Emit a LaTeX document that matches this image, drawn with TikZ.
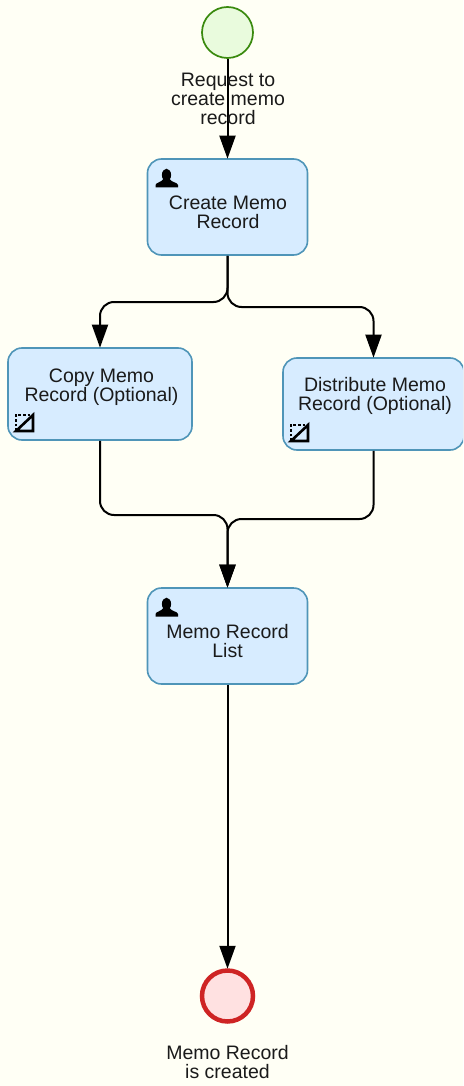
\documentclass[tikz,border=0pt]{standalone}
\usepackage{fontspec}
\setmainfont{Liberation Sans}
\usetikzlibrary{arrows.meta}
\definecolor{bgc}{HTML}{FFFFF5}
\definecolor{taskfill}{HTML}{D7ECFF}
\definecolor{taskline}{HTML}{4F95B8}
\definecolor{startfill}{HTML}{E9FBDD}
\definecolor{startline}{HTML}{3A8A0E}
\definecolor{endfill}{HTML}{FFE1E1}
\definecolor{endline}{HTML}{CE2424}
\definecolor{txt}{HTML}{1A1A1A}
\tikzset{
  taskbox/.style={draw=taskline,fill=taskfill,line width=1.6pt,rounded corners=14pt,inner sep=0pt,minimum width=#1},
  txtlabel/.style={text=txt,font=\fontsize{19.5}{19}\selectfont,align=center,inner sep=0pt},
  conn/.style={draw=black,line width=2pt,rounded corners=14pt,-{Triangle[width=16pt,length=23pt]},shorten >=-0.5pt},
  iconline/.style={draw=black,line width=2.6pt},
}
\begin{document}
\begin{tikzpicture}[x=1pt,y=-1pt]
\useasboundingbox (0,0) rectangle (463,1086);
\fill[bgc] (0,0) rectangle (463,1086);
% events and tasks
\node[circle,draw=startline,fill=startfill,line width=1.7pt,minimum size=51pt,inner sep=0pt] (start) at (227.5,32.5) {};
\node[taskbox=160pt,minimum height=96pt] (create) at (227.5,207) {};
\node[taskbox=184pt,minimum height=92pt] (copy) at (100,394) {};
\begin{scope}
\clip (0,0) rectangle (463,1086);
\node[taskbox=181pt,minimum height=92pt] (dist) at (373.5,404) {};
\end{scope}
\node[taskbox=160pt,minimum height=96pt] (list) at (227.5,636) {};
\node[circle,draw=endline,fill=endfill,line width=4.5pt,minimum size=51pt,inner sep=0pt] (end) at (227.5,996) {};
% helper coordinates
\coordinate (ly) at (0,302);
\coordinate (ry) at (0,307);
\coordinate (my1) at (0,515);
\coordinate (my2) at (0,519);
% connectors
\draw[conn] (start.south) -- (create.north);
\draw[conn] (create.south) -- (create.south |- ly) -- (copy.north |- ly) -- (copy.north);
\draw[conn] (create.south) -- (create.south |- ry) -- (dist.north |- ry) -- (dist.north);
\draw[conn] (copy.south) -- (copy.south |- my1) -- (list.north |- my1) -- (list.north);
\draw[conn] (dist.south) -- (dist.south |- my2) -- (list.north |- my2) -- (list.north);
\draw[conn] (list.south) -- (end.north);
% labels
\node[txtlabel] (startlab) at (228,98.5) {Request to\\create memo\\record};
\node[txtlabel] (createlab) at (228,212.5) {Create Memo\\Record};
\node[txtlabel] (copylab) at (101.5,387) {Copy Memo\\Record (Optional)};
\node[txtlabel] (distlab) at (375,396) {Distribute Memo\\Record (Optional)};
\node[txtlabel] (listlab) at (227.5,641.5) {Memo Record\\List};
\node[txtlabel] (endlab) at (227.5,1062.5) {Memo Record\\is created};
% user icons
\foreach \ox/\oy in {155.5/169,155.5/598}{
  \begin{scope}[shift={(\ox,\oy)}]
    \fill[black] (11,6) circle[x radius=4.6pt,y radius=6.3pt];
    \fill[black] (0,18.5) -- (22.5,18.5) -- (22.5,16) .. controls (22,13.5) and (16.5,13.5) .. (14,10) -- (8,10) .. controls (5.5,13.5) and (0.5,13.5) .. (0,16) -- cycle;
  \end{scope}
}
% sub-process icons
\foreach \ox/\oy in {16/415,291/425}{
  \begin{scope}[shift={(\ox,\oy)}]
    \draw[iconline,dotted] (0,16) -- (0,0) -- (17,0);
    \draw[iconline] (0,16) -- (17,16) -- (17,0) -- cycle;
  \end{scope}
}
\end{tikzpicture}
\end{document}
